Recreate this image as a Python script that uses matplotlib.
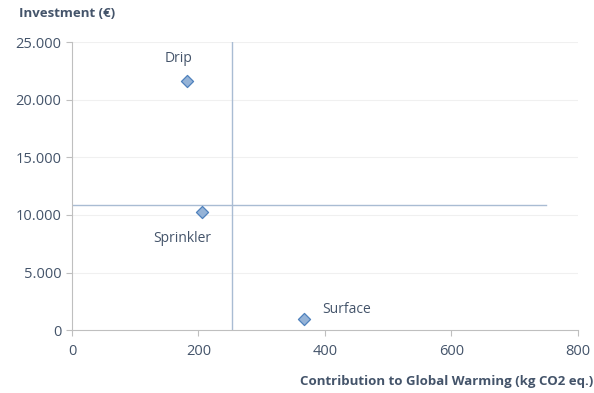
import matplotlib.pyplot as plt
from matplotlib.ticker import FuncFormatter

# data
systems = ["Drip", "Sprinkler", "Surface"]
gwp = [182, 205, 367]            # kg CO2 eq.
investment = [21600, 10250, 1000]  # euro

avg_gwp = 253
avg_inv = 10850
hline_end = 750

text_col = "#44546A"
line_col = "#A9BCD3"

plt.rcParams['font.family'] = ['Open Sans', 'DejaVu Sans']

fig = plt.figure(figsize=(5.94, 3.93), dpi=100)
ax = fig.add_axes([0.1212, 0.160, 0.8518, 0.733])

ax.set_xlim(0, 800)
ax.set_ylim(0, 25000)
ax.set_xticks([0, 200, 400, 600, 800])
ax.set_yticks([0, 5000, 10000, 15000, 20000, 25000])
ax.yaxis.set_major_formatter(FuncFormatter(lambda v, p: f"{int(v):,}".replace(",", ".")))

for y in [5000, 10000, 15000, 20000, 25000]:
    ax.axhline(y, color="#F0F0F0", lw=0.8, zorder=0)

# quadrant lines
ax.plot([avg_gwp, avg_gwp], [0, 25000], color=line_col, lw=1.0, zorder=1)
ax.plot([0, hline_end], [avg_inv, avg_inv], color=line_col, lw=1.0, zorder=1)

ax.scatter(gwp, investment, marker="D", s=38, facecolor="#95B3D7",
           edgecolor="#4F81BD", linewidth=0.9, zorder=3)

offsets = {"Drip": (-6, 11, "center", "bottom"),
           "Sprinkler": (-14, -14, "center", "top"),
           "Surface": (13, 1, "left", "bottom")}
for name, x, y in zip(systems, gwp, investment):
    dx, dy, ha, va = offsets[name]
    ax.annotate(name, (x, y), xytext=(dx, dy), textcoords="offset points",
                ha=ha, va=va, fontsize=10, color=text_col)

for s in ["top", "right"]:
    ax.spines[s].set_visible(False)
for s in ["left", "bottom"]:
    ax.spines[s].set_color("#BFBFBF")
ax.tick_params(axis="both", colors="#BFBFBF", labelcolor=text_col, labelsize=10.5,
               length=4)
ax.tick_params(axis="x", pad=6)

fig.text(0.032, 0.966, "Investment (€)", fontsize=9.5, fontweight="bold",
         color=text_col, va="center", ha="left")
fig.text(0.998, 0.028, "Contribution to Global Warming (kg CO2 eq.)", fontsize=9.5,
         fontweight="bold", color=text_col, va="center", ha="right")

fig.savefig("out.png", dpi=100)
